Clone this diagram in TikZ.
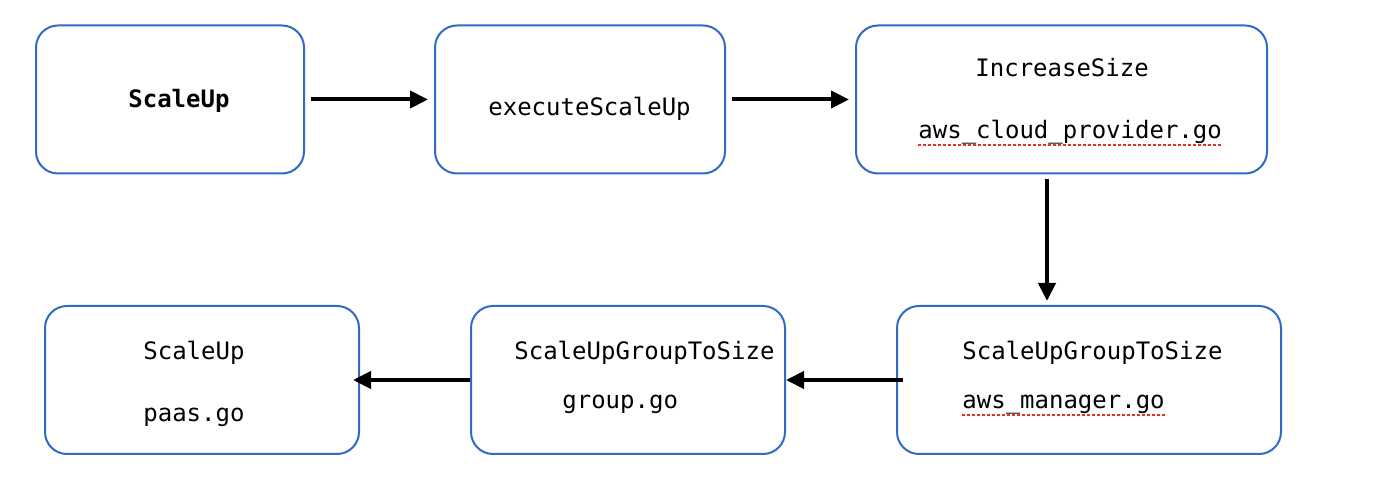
\documentclass[tikz,border=0pt]{standalone}
\usepackage{fontspec}
\setmonofont{DejaVu Sans Mono}
\usepackage{tikz}
\usetikzlibrary{arrows.meta,%
                calc}
\definecolor{boxblue}{RGB}{47,107,196}
\definecolor{spellred}{RGB}{232,48,36}

\begin{document}
\begin{tikzpicture}[x=0.5pt,y=-0.5pt,
		fnbox/.style={draw=boxblue,line width=1pt,rounded corners=11pt,minimum height=74pt,inner sep=0pt},
		fntext/.style={anchor=base west,inner sep=0pt,font=\ttfamily\fontsize{12pt}{14pt}\selectfont},
		flow/.style={line width=2pt,-{Triangle[length=9pt,width=8.5pt]}},
		squiggle/.style={draw=spellred,line width=1.2pt,dash pattern=on 1.5pt off 1pt}]
		\useasboundingbox (0,0) rectangle (1398,496);
		% top row
		\node[fnbox,minimum width=134pt] (up) at (170,99.5) {};
		\node[fnbox,minimum width=145pt] (exec) at (580,99.5) {};
		\node[fnbox,minimum width=205.5pt] (inc) at (1061.5,99.5) {};
		% bottom row
		\node[fnbox,minimum width=192pt] (mgr) at (1089,380) {};
		\node[fnbox,minimum width=157pt] (grp) at (628,380) {};
		\node[fnbox,minimum width=157pt] (paas) at (202,380) {};
		%\draw[help lines] (0,0) grid (1398,496);
		\node[fntext,font=\ttfamily\bfseries\fontsize{12pt}{14pt}\selectfont] (upT) at (128,108) {ScaleUp};
		\node[fntext] (execT) at (488,116) {executeScaleUp};
		\node[fntext] (incT) at (975,77) {IncreaseSize};
		\node[fntext] (incF) at (918,139) {aws\_cloud\_provider.go};
		\node[fntext] (mgrT) at (962,360) {ScaleUpGroupToSize};
		\node[fntext] (mgrF) at (962,409) {aws\_manager.go};
		\node[fntext] (grpT) at (514,360) {ScaleUpGroupToSize};
		\node[fntext] (grpF) at (562,409) {group.go};
		\node[fntext] (paasT) at (143,360) {ScaleUp};
		\node[fntext] (paasF) at (143,422) {paas.go};
		% spell check marks
		\draw[squiggle] ([yshift=-3pt]incF.base west) -- ([yshift=-3pt]incF.base east);
		\draw[squiggle] ([yshift=-3pt]mgrF.base west) -- ([yshift=-3pt]mgrF.base east);
		% calls
		\draw[flow,shorten <=3pt,shorten >=3pt] (up.east) -- (exec.west);
		\draw[flow,shorten <=3pt,shorten >=3pt] (exec.east) -- (inc.west);
		\coordinate (drop) at ([xshift=-7.25pt]inc.south);
		\draw[flow,shorten <=2.5pt,shorten >=2pt] (drop) -- (drop |- mgr.north);
		\draw[flow,shorten <=-3.5pt] (mgr.west) -- (grp.east);
		\draw[flow,shorten >=-3.5pt] (grp.west) -- (paas.east);
	\end{tikzpicture}
\end{document}
